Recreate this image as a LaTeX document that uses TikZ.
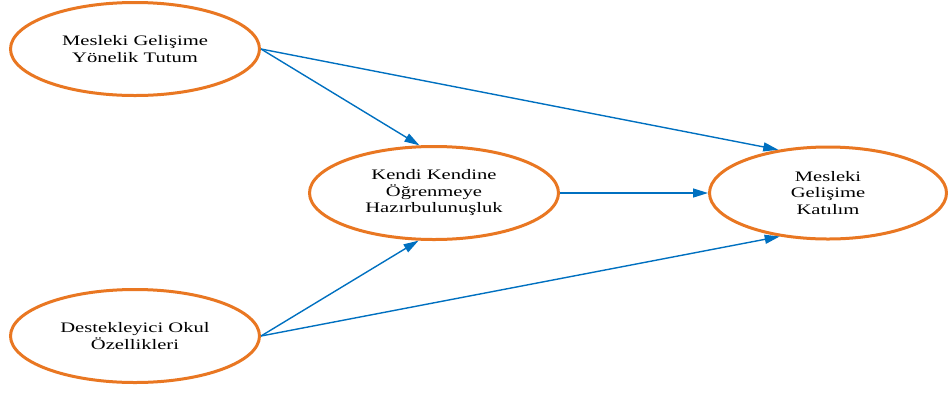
\documentclass[tikz,border=0pt]{standalone}
\usepackage{fontspec}
\setmainfont{Liberation Serif}[FakeStretch=1.42]
\usetikzlibrary{shapes.geometric,arrows.meta}
\definecolor{nodeorange}{RGB}{233,119,34}
\definecolor{linkblue}{RGB}{0,112,192}
\tikzset{
  construct/.style={ellipse, draw=nodeorange, line width=3pt, fill=white,
    minimum width=249pt, minimum height=93pt, inner sep=0pt, align=center,
    font=\fontsize{14.5}{16.5}\selectfont},
  path/.style={draw=linkblue, line width=1.4pt,
    -{Triangle[length=15pt,width=9pt]}}
}
\begin{document}
\begin{tikzpicture}[x=1pt,y=-1pt]
  \useasboundingbox (0,0) rectangle (948,392);
  % constructs
  \node[construct] (attitude) at (135,49) {Mesleki Gelişime\\Yönelik Tutum};
  \node[construct] (ready) at (434,193) {Kendi Kendine\\Öğrenmeye\\Hazırbulunuşluk};
  \node[construct, minimum width=237pt, minimum height=92pt] (particip) at (828,193) {Mesleki\\Gelişime\\Katılım};
  \node[construct] (school) at (135,336) {Destekleyici Okul\\Özellikleri};
  % structural paths
  \draw[path] (attitude.east) -- (ready.107);
  \draw[path] (attitude.east) -- (particip.139);
  \draw[path] (ready.east) -- (particip.west);
  \draw[path] (school.east) -- (ready.252);
  \draw[path] (school.east) -- (particip.222);
\end{tikzpicture}
\end{document}
